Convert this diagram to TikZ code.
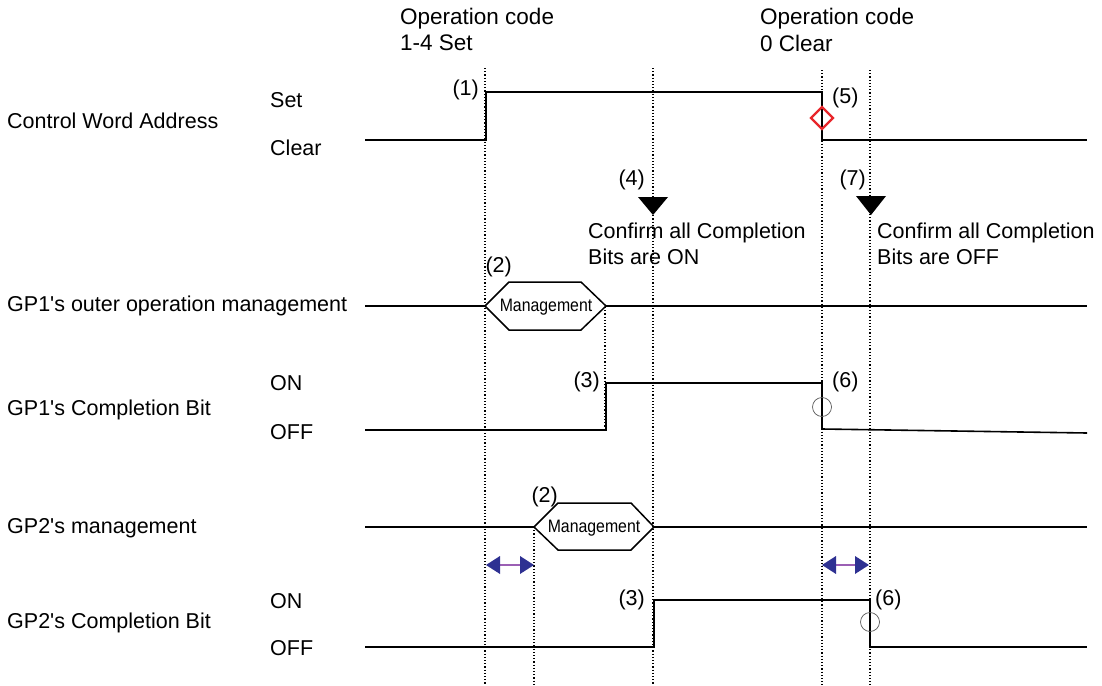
\documentclass[tikz,border=0pt]{standalone}
\usepackage{fontspec}
\setmainfont{Liberation Sans}
\usepackage{xcolor}
\usetikzlibrary{arrows.meta,calc}
\definecolor{Ink}      {HTML}{000000}
\definecolor{MarkRed}  {HTML}{E8262B}
\definecolor{ArrBlue}  {HTML}{2E3192}
\definecolor{ArrLine}  {HTML}{9B5FB4}
\definecolor{RingGrey} {HTML}{555555}

\newcommand{\apos}{\textquotesingle}
\newcommand{\mgmtword}{\scalebox{0.88}[1]{Management}}

\tikzset{
  sig/.style={line width=1.6pt, Ink},
  guide/.style={line width=1.2pt, Ink, dotted},
  lbl/.style={anchor=west, inner sep=0pt, text=Ink},
  tag/.style={anchor=east, inner sep=0pt, text=Ink},
  head/.style={lbl, font=\fontsize{22.5}{26}\selectfont},
  mgmt/.style={line width=1.5pt, Ink, line join=miter},
  mgmttext/.style={font=\fontsize{18}{20}\selectfont, inner sep=0pt},
  ring/.style={line width=0.7pt, RingGrey}
}

\begin{document}
\begin{tikzpicture}[x=1pt, y=-1pt, font=\fontsize{21.5}{24}\selectfont]
  \useasboundingbox (0,0) rectangle (1102,685);

  % ===== HEADINGS =====
  \node[head] (opset)   at (400,19) {Operation code};
  \node[head] (opsetb)  at (400,43) {1-4 Set};
  \node[head] (opclr)   at (760,19) {Operation code};
  \node[head] (opclrb)  at (760,43) {0 Clear};

  % ===== ROW LABELS =====
  \node[lbl] (cwa)  at (7,121) {Control Word Address};
  \node[lbl] (cset) at (270,100) {Set};
  \node[lbl] (cclr) at (270,148) {Clear};
  \node[lbl] (gp1m) at (7,306) {GP1\apos s outer operation management};
  \node[lbl] (gp1b) at (7,410) {GP1\apos s Completion Bit};
  \node[lbl] (on1)  at (270,383) {ON};
  \node[lbl] (off1) at (270,432) {OFF};
  \node[lbl] (gp2m) at (7,528) {GP2\apos s management};
  \node[lbl] (gp2b) at (7,623) {GP2\apos s Completion Bit};
  \node[lbl] (on2)  at (270,601) {ON};
  \node[lbl] (off2) at (270,648) {OFF};

  % ===== DOTTED GUIDES =====
  \draw[guide] (485,68) -- (485,685);
  \draw[guide] (653,68) -- (653,685);
  \draw[guide] (822,70) -- (822,685);
  \draw[guide] (870,70) -- (870,685);
  \draw[guide] (605,307) -- (605,430);
  \draw[guide] (534,527) -- (534,685);

  % ===== CONTROL WORD ADDRESS =====
  \draw[sig] (365,140) -- (486,140) -- (486,92) -- (822,92) -- (822,140) -- (1087,140);
  \node[tag] (n1) at (479,90) {(1)};
  \node[lbl] (n5) at (832,98) {(5)};
  \draw[MarkRed, line width=2.2pt] (822,107) -- (833,118) -- (822,129) -- (811,118) -- cycle;

  % ===== CONFIRM MARKS =====
  \fill[Ink] (638,197) -- (668,197) -- (653,215) -- cycle;
  \fill[Ink] (856,196) -- (886,196) -- (871,215) -- cycle;
  \node[tag] (n4) at (645,180) {(4)};
  \node[tag] (n7) at (866,180) {(7)};
  \node[lbl] (conon)  at (588,233) {Confirm all Completion};
  \node[lbl] (cononb) at (588,257) {Bits are ON};
  \node[lbl] (conof)  at (877,233) {Confirm all Completion};
  \node[lbl] (conofb) at (877,257) {Bits are OFF};

  % ===== GP1 MANAGEMENT =====
  \draw[sig] (365,306) -- (485,306);
  \draw[mgmt] (485,306) -- (509,282) -- (581,282) -- (606,306) -- (581,330) -- (509,330) -- cycle;
  \node[mgmttext] (m1) at (546,307) {\mgmtword};
  \draw[sig] (606,306) -- (1087,306);
  \node[tag] (n2a) at (512,267) {(2)};

  % ===== GP1 COMPLETION BIT =====
  \draw[sig] (365,430) -- (606,430) -- (606,383) -- (822,383) -- (822,429) -- (1087,433);
  \node[tag] (n3a) at (600,382) {(3)};
  \node[lbl] (n6a) at (832,382) {(6)};
  \draw[ring] (822,407) circle (9.5);

  % ===== GP2 MANAGEMENT =====
  \draw[sig] (365,527) -- (534,527);
  \draw[mgmt] (534,527) -- (558,503) -- (631,503) -- (654,527) -- (631,550) -- (558,550) -- cycle;
  \node[mgmttext] (m2) at (594,528) {\mgmtword};
  \draw[sig] (654,527) -- (1087,527);
  \node[tag] (n2b) at (558,497) {(2)};

  % ===== DELAY SPANS =====
  \draw[ArrLine, line width=1.2pt] (497,565) -- (523,565);
  \fill[ArrBlue] (486,565) -- (500,556) -- (500,574) -- cycle;
  \fill[ArrBlue] (534,565) -- (520,556) -- (520,574) -- cycle;
  \draw[ArrLine, line width=1.2pt] (834,565) -- (858,565);
  \fill[ArrBlue] (822,565) -- (836,556) -- (836,574) -- cycle;
  \fill[ArrBlue] (869,565) -- (855,556) -- (855,574) -- cycle;

  % ===== GP2 COMPLETION BIT =====
  \draw[sig] (365,647) -- (654,647) -- (654,600) -- (870,600) -- (870,647) -- (1087,647);
  \node[tag] (n3b) at (645,600) {(3)};
  \node[lbl] (n6b) at (875,600) {(6)};
  \draw[ring] (870,622) circle (9.5);

\end{tikzpicture}
\end{document}
